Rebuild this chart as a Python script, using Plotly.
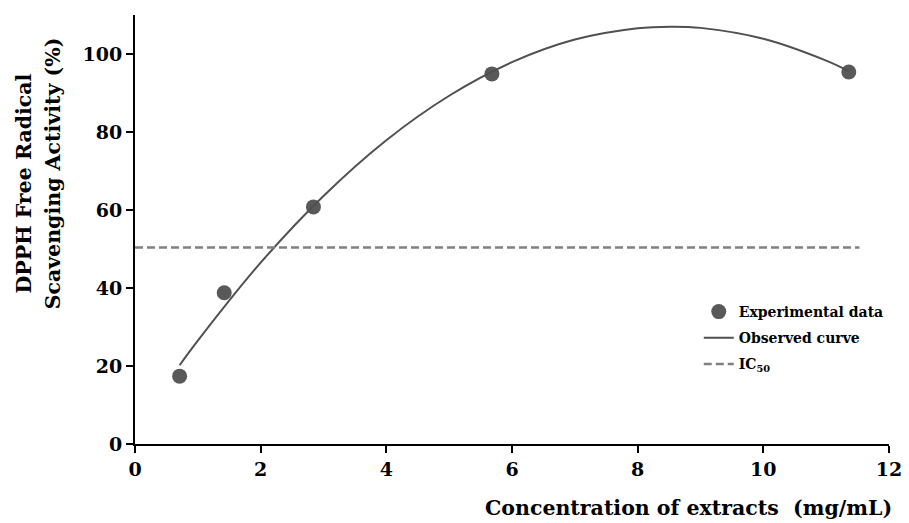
import plotly.graph_objects as go

conc = [0.71, 1.42, 2.84, 5.68, 11.36]
activity = [17.4, 38.8, 60.8, 94.9, 95.4]

# Observed (fitted) curve
curve_x = [0.71, 1, 2, 3, 4, 5, 6, 7, 8, 8.53, 9, 10, 11, 11.36]
curve_y = [20.2, 26.5, 46.5, 63.6, 77.9, 89.3, 97.9, 103.7, 106.6, 107.0, 106.7, 103.9, 98.3, 95.6]

# IC50 reference line
ic50_x = [0, 11.53]
ic50_y = [50.4, 50.4]

x_ticks = [0, 2, 4, 6, 8, 10, 12]
y_ticks = [0, 20, 40, 60, 80, 100]

FONT = "DejaVu Serif"
OFF = 8  # page body margin
W, H = 909 - OFF, 523 - OFF
L, R, T, B = 135 - OFF, 17, 15 - OFF, 79
pw, ph = W - L - R, H - T - B


def px_x(sx):
    return (sx - OFF - L) / pw


def px_y(sy):
    return (H - B - (sy - OFF)) / ph


fig = go.Figure()
fig.add_trace(go.Scatter(
    x=conc, y=activity, mode="markers", name="Experimental data",
    marker=dict(size=15, color="#595959"), legendgroup="a"))
fig.add_trace(go.Scatter(
    x=curve_x, y=curve_y, mode="lines", name="Observed curve",
    line=dict(color="#505050", width=2, shape="spline"), legendgroup="b"))
fig.add_trace(go.Scatter(
    x=ic50_x, y=ic50_y, mode="lines", name="IC<sub>50</sub>",
    line=dict(color="#808080", width=2.5, dash="8px,4px"), legendgroup="c"))

tickfont = dict(family=FONT, size=19, color="black", weight="bold")
fig.update_layout(
    width=W, height=H,
    margin=dict(l=L, r=R, t=T, b=B),
    paper_bgcolor="white", plot_bgcolor="white",
    font=dict(family=FONT, color="black"),
    showlegend=True,
    legend=dict(x=px_x(701), y=px_y(296), xanchor="left", yanchor="top",
                font=dict(family=FONT, size=14, color="black", weight="bold"),
                bgcolor="rgba(0,0,0,0)", tracegroupgap=5),
    xaxis=dict(range=[0, 12], tickvals=x_ticks, showgrid=False, zeroline=False,
               showline=True, linecolor="black", linewidth=2,
               ticks="outside", ticklen=7, tickwidth=2, tickcolor="black",
               tickfont=tickfont),
    yaxis=dict(range=[0, 110], tickvals=y_ticks, showgrid=False, zeroline=False,
               showline=True, linecolor="black", linewidth=2,
               ticks="outside", ticklen=7, tickwidth=2, tickcolor="black",
               tickfont=tickfont),
    annotations=[
        dict(text="Concentration of extracts  (mg/mL)", xref="paper", yref="paper",
             x=px_x(897), y=px_y(508), xanchor="right", yanchor="middle",
             showarrow=False, font=dict(family=FONT, size=20.5, color="black", weight="bold")),
        dict(text="DPPH Free Radical", xref="paper", yref="paper",
             x=px_x(24), y=px_y(183), xanchor="center", yanchor="middle",
             textangle=-90, showarrow=False,
             font=dict(family=FONT, size=20.5, color="black", weight="bold")),
        dict(text="Scavenging Activity (%)", xref="paper", yref="paper",
             x=px_x(53), y=px_y(173), xanchor="center", yanchor="middle",
             textangle=-90, showarrow=False,
             font=dict(family=FONT, size=20.5, color="black", weight="bold")),
    ],
)

fig.write_html("out.html")
